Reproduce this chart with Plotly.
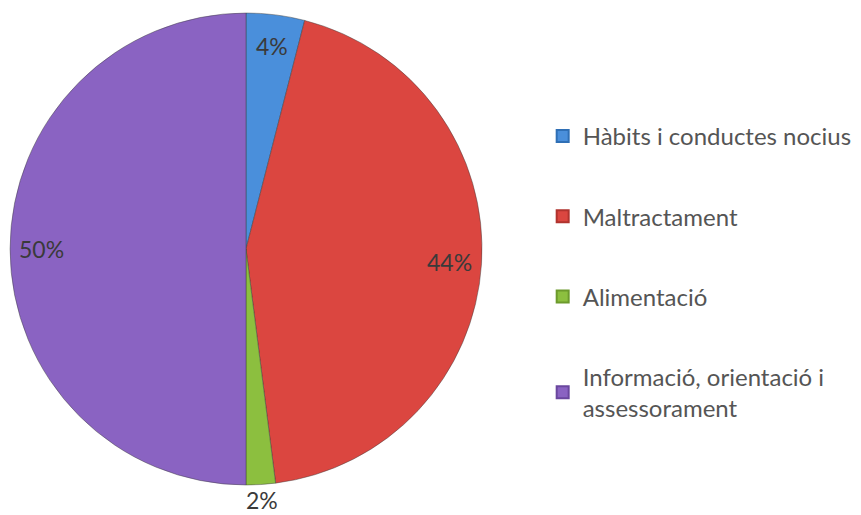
import math
import plotly.graph_objects as go

labels = ["Hàbits i conductes nocius", "Maltractament", "Alimentació",
          "Informació, orientació i<br>assessorament"]
values = [4, 44, 2, 50]
colors = ["#4A8FDB", "#DB4640", "#8CBF3F", "#8A63C2"]
edge_colors = ["#2F6FB5", "#B0332E", "#6C9A2C", "#6A479E"]

FONT = "Lato, 'Open Sans', sans-serif"
W, H = 861, 515
dom_x = [2 / W, 474 / W]
dom_y = [38 / H, 510 / H]

fig = go.Figure()
fig.add_trace(go.Pie(
    labels=labels, values=values, sort=False, direction="clockwise",
    marker=dict(colors=colors, line=dict(color="rgba(60,60,60,0.45)", width=1)),
    textposition="none", showlegend=False, hoverinfo="label+percent",
    domain=dict(x=dom_x, y=dom_y),
))

# percentage labels placed at each slice's mid-angle (derived from the values)
cx = (dom_x[0] + dom_x[1]) / 2 * W
cy = (1 - (dom_y[0] + dom_y[1]) / 2) * H
R = min((dom_x[1] - dom_x[0]) * W, (dom_y[1] - dom_y[0]) * H) / 2
total = sum(values)
cum = 0
for v in values:
    theta = 2 * math.pi * (cum + v / 2) / total
    cum += v
    pct = 100 * v / total
    rf = 1.065 if pct < 3 else 0.865
    px = cx + rf * R * math.sin(theta)
    py = cy - rf * R * math.cos(theta)
    fig.add_annotation(x=px / W, y=1 - py / H, xref="paper", yref="paper",
                       xanchor="center", yanchor="middle",
                       text=f"{pct:.0f}%", showarrow=False,
                       font=dict(family=FONT, size=23, color="#3a3a3a"))

for lab, col, ec in zip(labels, colors, edge_colors):
    fig.add_trace(go.Scatter(
        x=[None], y=[None], mode="markers", name=lab, legendgroup=lab,
        marker=dict(symbol="square", size=11, color=col, line=dict(color=ec, width=1)),
    ))

fig.update_layout(
    width=W, height=H,
    margin=dict(l=0, r=0, t=0, b=0),
    paper_bgcolor="white", plot_bgcolor="white",
    xaxis=dict(visible=False), yaxis=dict(visible=False),
    legend=dict(x=0.621, y=0.4876, xanchor="left", yanchor="middle",
                font=dict(family=FONT, size=24, color="#555555"),
                tracegroupgap=46, itemsizing="constant"),
)

fig.write_html("out.html")
